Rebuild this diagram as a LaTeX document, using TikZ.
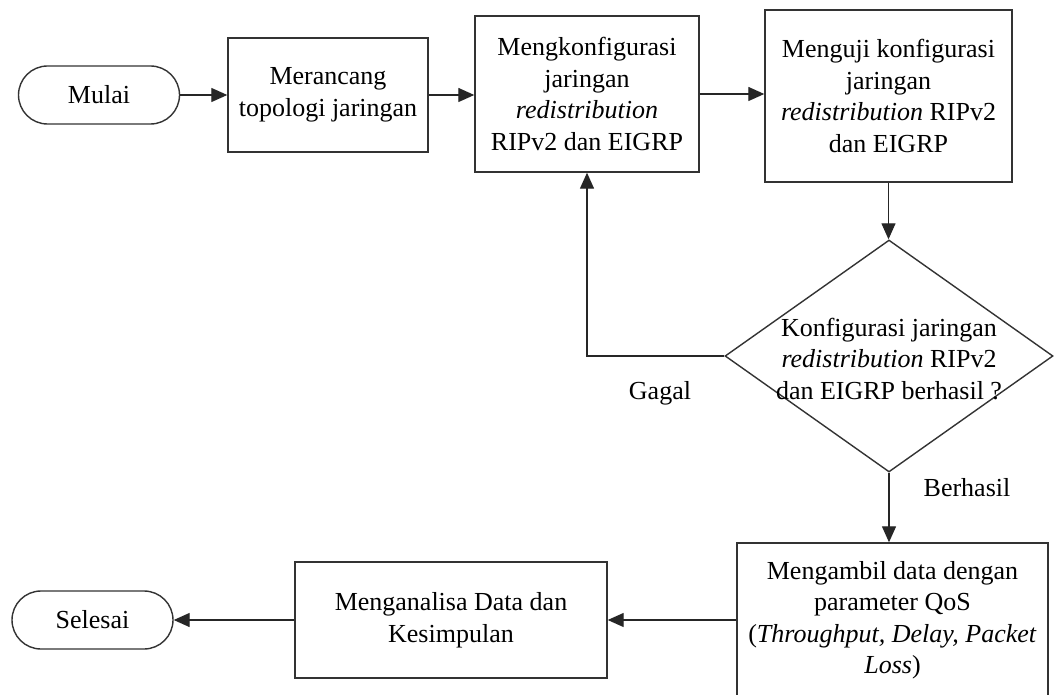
\documentclass[tikz,border=0pt]{standalone}
\usepackage{fontspec}
\setmainfont{Liberation Serif}
\usetikzlibrary{shapes.geometric,arrows.meta}
\begin{document}
\begin{tikzpicture}[x=1pt,y=-1pt,
  txt/.style={font=\fontsize{26}{31.5}\selectfont, align=center, text=black},
  procbox/.style={txt, draw=black!80, line width=1.4pt, rectangle, inner sep=0pt},
  termbox/.style={txt, draw=black!80, line width=1.4pt, rectangle, rounded corners=29pt, inner sep=0pt, minimum width=161pt, minimum height=58pt},
  decbox/.style={draw=black!80, line width=1.4pt, diamond, inner sep=0pt, minimum width=328pt, minimum height=232pt},
  arr/.style={draw=black!85, line width=1.3pt, -{Triangle[length=16pt,width=14pt]}},
  lbl/.style={txt}
]
\useasboundingbox (0,0) rectangle (1054,695);
\clip (0,0) rectangle (1054,695);
\fill[white] (0,0) rectangle (1054,695);

\node[termbox] (mulai) at (99,95) {Mulai};
\node[procbox, minimum width=200pt, minimum height=114pt] (merancang) at (328,95) {Merancang\\topologi jaringan};
\node[procbox, minimum width=224pt, minimum height=156pt] (konf) at (587,94) {Mengkonfigurasi\\jaringan\\\textit{redistribution}\\RIPv2 dan EIGRP};
\node[procbox, minimum width=247pt, minimum height=172pt] (uji) at (888.5,96) {Menguji konfigurasi\\jaringan\\\textit{redistribution} RIPv2\\dan EIGRP};
\node[decbox, label={[txt, yshift=-3pt]center:{Konfigurasi jaringan\\\textit{redistribution} RIPv2\\dan EIGRP berhasil ?}}] (dec) at (889,356) {};
\node[procbox, minimum width=311pt, minimum height=154pt] (ambil) at (892.5,620) {Mengambil data dengan\\parameter QoS\\(\textit{Throughput, Delay, Packet}\\\textit{Loss})};
\node[procbox, minimum width=312pt, minimum height=116pt] (analisa) at (451,620) {Menganalisa Data dan\\Kesimpulan};
\node[termbox] (selesai) at (92.5,620) {Selesai};

\node[lbl] (gagal) at (660,393) {Gagal};
\node[lbl] (berhasil) at (967,488) {Berhasil};

\draw[arr] (mulai.east) -- (merancang.west);
\draw[arr] (merancang.east) -- (merancang.east -| konf.west);
\draw[arr] (konf.east) -- (konf.east -| uji.west);
\draw[arr] (uji.south) -- (uji.south |- dec.north);
\draw[arr] (dec.west) -| (konf.south);
\draw[arr] (dec.south) -- (dec.south |- ambil.north);
\draw[arr] (ambil.west) -- (ambil.west -| analisa.east);
\draw[arr] (analisa.west) -- (selesai.east);
\end{tikzpicture}
\end{document}
